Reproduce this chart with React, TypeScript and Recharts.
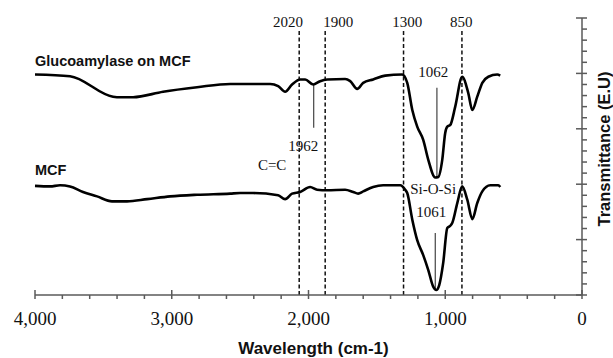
import React from "react";
import { LineChart, Line, XAxis, YAxis, ReferenceLine, ReferenceDot } from "recharts";

// wavenumber (cm-1) / transmittance readings, upper spectrum
const glucoWave = [4000, 3744, 3429, 3378, 3283, 3063, 2815, 2573, 2500, 2280, 2222, 2171, 2120, 2061, 2024, 1966, 1915, 1863, 1732, 1695, 1644, 1600, 1527, 1439, 1315, 1278, 1241, 1205, 1161, 1124, 1073, 1051, 1022, 1000, 985, 963, 927, 876, 832, 802, 766, 729, 685, 620, 598];
const glucoT = [3.98, 3.95, 3.58, 3.57, 3.57, 3.67, 3.75, 3.81, 3.81, 3.81, 3.77, 3.67, 3.8, 3.89, 3.89, 3.8, 3.86, 3.89, 3.9, 3.86, 3.72, 3.83, 3.89, 3.96, 3.98, 3.83, 3.34, 3.04, 2.8, 2.44, 2.12, 2.13, 2.44, 2.93, 3.04, 3.07, 3.4, 3.94, 3.65, 3.34, 3.58, 3.83, 3.94, 3.98, 3.96];

// lower spectrum (bare MCF)
const mcfWave = [4000, 3890, 3817, 3744, 3649, 3546, 3437, 3327, 3180, 3012, 2815, 2573, 2500, 2405, 2222, 2171, 2120, 2061, 1988, 1937, 1863, 1732, 1673, 1637, 1600, 1527, 1454, 1329, 1293, 1278, 1241, 1205, 1161, 1124, 1088, 1066, 1044, 1015, 985, 963, 949, 912, 876, 839, 802, 766, 729, 671, 612, 598];
const mcfT = [1.97, 1.96, 1.98, 1.96, 1.86, 1.78, 1.69, 1.69, 1.73, 1.78, 1.81, 1.83, 1.84, 1.84, 1.8, 1.73, 1.83, 1.86, 1.95, 1.9, 1.89, 1.9, 1.86, 1.83, 1.87, 1.95, 1.98, 1.98, 1.9, 1.84, 1.36, 0.99, 0.72, 0.45, 0.15, 0.09, 0.18, 0.58, 1.21, 1.25, 1.3, 1.66, 1.96, 1.72, 1.37, 1.66, 1.87, 1.98, 1.98, 1.95];

// dashed band markers
const bandWave = [2068, 1878, 1305, 878];
const bandLabel = ["2020", "1900", "1300", "850"];
const bandLabelWave = [2149, 1783, 1278, 883];

// thin pointer lines to peaks
const pointerWave = [1962, 1061, 1073];
const pointerTop = [3.8, 3.74, 1.12];
const pointerBottom = [3.02, 2.12, 0.09];

// text notes inside the plot
const noteText = ["Glucoamylase on MCF", "MCF", "C=C", "1962", "1062", "Si-O-Si", "1061"];
const noteWave = [4000, 4000, 2266, 2039, 1088, 1088, 1102];
const noteT = [4.13, 2.17, 2.26, 2.6, 3.94, 1.82, 1.41];

const xTicks = Array.from({ length: 21 }, (_, i) => i * 200);
const yTicks = Array.from({ length: 26 }, (_, i) => Math.round(i * 2) / 10);

const glucoData = glucoWave.map((w, i) => ({ wave: w, t: glucoT[i] }));
const mcfData = mcfWave.map((w, i) => ({ wave: w, t: mcfT[i] }));

const serif = "'Liberation Serif', 'Times New Roman', serif";
const sans = "'Liberation Sans', Arial, sans-serif";
const axisGray = "#5a5a5a";

const XTick = ({ x, y, payload }: any) => {
  const major = payload.value % 1000 === 0;
  return (
    <g>
      <line x1={x} x2={x} y1={major ? y - 5 : y} y2={y + 4} stroke={axisGray} strokeWidth={1.5} />
      {major && (
        <text x={x} y={y + 30} textAnchor="middle" fontFamily={serif} fontSize={19} fill="#111">
          {payload.value.toLocaleString("en-US")}
        </text>
      )}
    </g>
  );
};

const YTick = ({ x, y, payload }: any) => {
  const major = Math.abs(payload.value - Math.round(payload.value)) < 1e-6;
  return <line x1={major ? x - 6 : x} x2={x + 5} y1={y} y2={y} stroke={axisGray} strokeWidth={1.5} />;
};

const textAt = (text: string, props: any) => (p: any) => {
  const vb = p.viewBox;
  return (
    <text x={vb.x + vb.width / 2} y={vb.y + vb.height / 2} {...props}>
      {text}
    </text>
  );
};

export default function App() {
  return (
    <div>
      <style>{"body{margin:0}"}</style>
      <LineChart width={613} height={358} margin={{ top: 18, right: 0, bottom: 0, left: 35 }}>
        <XAxis
          type="number"
          dataKey="wave"
          domain={[0, 4000]}
          reversed
          ticks={xTicks}
          interval={0}
          tickSize={0}
          tickMargin={0}
          tickLine={false}
          tick={<XTick />}
          height={63}
          axisLine={{ stroke: axisGray, strokeWidth: 1.5 }}
          label={{
            content: (p: any) => (
              <text x={p.viewBox.x + p.viewBox.width / 2 + 5} y={354} textAnchor="middle" fontFamily={sans} fontWeight="bold" fontSize={17} fill="#111">
                Wavelength (cm-1)
              </text>
            ),
          }}
        />
        <YAxis
          orientation="right"
          type="number"
          domain={[0, 5]}
          ticks={yTicks}
          interval={0}
          tickSize={0}
          tickMargin={0}
          tickLine={false}
          tick={<YTick />}
          width={31}
          axisLine={{ stroke: axisGray, strokeWidth: 1.5 }}
          label={{
            content: (p: any) => {
              const cx = p.viewBox.x + 27.5;
              const cy = p.viewBox.y + p.viewBox.height / 2 - 7.5;
              return (
                <text x={cx} y={cy} transform={`rotate(-90, ${cx}, ${cy})`} textAnchor="middle" fontFamily={sans} fontWeight="bold" fontSize={16.5} fill="#111">
                  Transmittance (E.U)
                </text>
              );
            },
          }}
        />
        {bandWave.map((w, i) => (
          <ReferenceLine
            key={"band" + i}
            segment={[{ x: w, y: 0 }, { x: w, y: 4.79 }]}
            stroke="#111"
            strokeWidth={1.5}
            strokeDasharray="4 2.5"
          />
        ))}
        {bandLabel.map((t, i) => (
          <ReferenceDot
            key={"bl" + i}
            x={bandLabelWave[i]}
            y={4.83}
            r={1}
            fill="none"
            stroke="none"
            label={textAt(t, { textAnchor: "middle", fontFamily: serif, fontSize: 15, fill: "#111" })}
          />
        ))}
        {pointerWave.map((w, i) => (
          <ReferenceLine
            key={"ptr" + i}
            segment={[{ x: w, y: pointerTop[i] }, { x: w, y: pointerBottom[i] }]}
            stroke="#444"
            strokeWidth={1.2}
          />
        ))}
        {noteText.map((t, i) => (
          <ReferenceDot
            key={"note" + i}
            x={noteWave[i]}
            y={noteT[i]}
            r={1}
            fill="none"
            stroke="none"
            label={textAt(
              t,
              i < 2
                ? { textAnchor: "start", fontFamily: sans, fontWeight: "bold", fontSize: 14.5, fill: "#111" }
                : { textAnchor: "middle", fontFamily: serif, fontSize: 15, fill: "#111" }
            )}
          />
        ))}
        <Line data={glucoData} dataKey="t" type="monotone" stroke="#000" strokeWidth={2.6} dot={false} isAnimationActive={false} />
        <Line data={mcfData} dataKey="t" type="monotone" stroke="#000" strokeWidth={2.6} dot={false} isAnimationActive={false} />
      </LineChart>
    </div>
  );
}
